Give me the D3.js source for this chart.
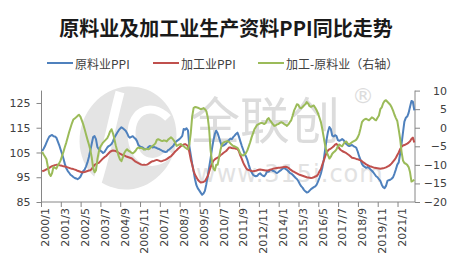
<!DOCTYPE html>
<html><head><meta charset="utf-8">
<script src="https://cdn.jsdelivr.net/npm/d3@7"></script>
<style>body{margin:0;background:#fff}svg{display:block}</style>
</head><body><svg id="c" width="454" height="265"></svg>
<script>
const title = "原料业及加工业生产资料PPI同比走势";
const seriesNames = ["原料业PPI", "加工业PPI", "加工-原料业（右轴）"];
const seriesColors = ["#4F81BD", "#C0504D", "#9BBB59"];
const categories = [];
for (let y = 2000; y <= 2021; y++) for (let m = 1; m <= 12; m++) categories.push(y + "/" + m);
const tickLabels = ["2000/1","2001/3","2002/5","2003/7","2004/9","2005/11","2007/1","2008/3","2009/5","2010/7","2011/9","2012/11","2014/1","2015/3","2016/5","2017/7","2018/9","2019/11","2021/1"];
const leftTicks = [85, 95, 105, 115, 125];
const rightTicks = [-20, -15, -10, -5, 0, 5, 10];

// 原料业PPI (left axis)
const rawPPI = [
105.6,106.5,107.6,109.0,110.3,111.4,111.8,112.1,111.6,111.5,111.0,109.5,
108.0,106.2,104.5,102.6,100.4,98.6,97.6,96.8,96.0,95.6,95.1,94.7,
94.5,94.2,94.6,95.2,96.4,97.5,98.1,99.4,101.0,103.2,105.8,108.5,
111.2,111.6,110.4,107.2,106.3,105.8,105.4,104.8,105.2,106.1,107.0,107.6,
107.9,108.4,109.5,111.0,112.0,113.0,113.9,114.6,115.2,114.8,114.3,113.8,
112.8,111.5,111.0,111.3,111.6,111.0,110.5,109.6,108.0,107.5,107.2,107.0,
106.6,106.3,106.5,107.2,107.6,107.4,107.0,107.3,107.0,106.8,106.5,106.3,
106.0,105.6,105.4,105.2,105.3,106.0,106.3,106.8,107.3,108.0,109.0,109.6,
110.0,110.4,111.0,111.7,114.5,114.2,114.8,114.0,107.6,104.0,100.5,97.5,
94.2,91.8,90.5,89.7,88.8,87.9,88.4,89.5,92.2,95.4,99.0,102.5,
106.5,109.8,112.4,113.8,112.8,111.0,109.2,107.6,107.8,108.2,108.6,109.5,
110.0,110.6,110.4,111.2,111.8,112.5,113.0,111.5,109.6,107.8,106.2,104.6,
103.4,102.0,100.0,98.2,97.0,96.0,95.6,95.4,95.6,96.3,96.6,96.0,
95.6,95.4,96.2,97.4,97.2,97.8,98.0,97.6,97.4,97.0,96.7,97.1,
97.6,98.0,98.5,98.8,98.4,98.0,97.4,96.8,96.5,96.0,95.4,94.8,
94.3,93.5,92.4,91.4,90.8,89.9,89.3,88.8,89.0,89.6,90.2,90.6,
91.0,91.3,92.0,93.3,94.8,96.5,98.8,102.0,106.3,110.2,113.4,115.3,
114.5,111.8,111.5,112.0,111.6,110.0,109.7,110.0,110.4,110.0,109.2,108.4,
107.9,107.6,107.8,108.0,107.6,107.3,106.9,105.4,103.5,102.0,100.4,99.6,
99.2,98.8,99.1,98.8,98.2,97.6,97.0,96.2,95.4,95.0,94.2,93.5,
92.0,91.0,90.6,91.5,93.5,93.8,94.0,94.4,95.0,96.5,98.2,100.1,
101.0,104.5,108.5,113.0,117.5,119.0,119.5,121.0,123.5,125.8,125.5,122.0
];
// 加工业PPI (left axis)
const procPPI = [
97.4,97.6,97.9,98.2,98.5,98.8,99.2,99.5,99.7,99.9,100.0,100.0,
99.9,99.7,99.6,99.4,99.3,99.2,99.0,98.8,98.6,98.4,98.3,98.1,
97.9,97.6,97.4,97.2,97.0,97.0,97.1,97.3,97.5,97.7,97.8,98.3,
99.2,100.0,100.3,100.6,100.8,101.4,102.0,102.6,103.1,103.5,104.1,104.7,
105.3,105.6,105.8,105.7,105.6,105.3,104.9,104.5,104.2,104.0,103.8,103.5,
103.3,103.1,102.9,102.7,102.3,101.8,101.3,101.0,100.7,100.4,100.1,100.0,
100.1,100.0,100.1,100.4,100.8,101.2,101.5,101.6,101.8,102.0,101.8,101.6,
101.5,101.6,101.8,102.0,102.3,102.7,103.1,103.5,104.1,104.7,105.4,105.9,
106.5,107.0,107.6,107.9,108.2,108.4,108.1,107.5,105.2,102.2,100.0,97.6,
96.0,95.0,94.0,93.4,92.9,93.0,93.1,93.4,94.4,95.4,97.2,99.0,
100.4,101.6,102.2,102.6,102.9,103.3,103.9,104.3,104.8,105.2,105.6,106.3,
107.0,107.0,106.8,106.7,106.7,106.5,106.4,105.5,103.8,102.5,101.0,99.8,
98.8,98.1,97.9,97.7,97.5,97.4,97.5,97.6,97.8,98.0,98.1,98.0,
97.9,97.8,97.7,97.7,97.8,98.0,98.2,98.4,98.5,98.6,98.7,98.8,
98.8,98.9,99.0,99.1,99.2,99.1,98.8,98.3,97.9,97.4,97.2,96.9,
96.6,96.3,96.0,95.8,95.6,95.4,95.2,95.0,94.9,94.8,94.7,94.8,
95.0,95.3,95.5,96.2,97.4,98.3,100.1,101.7,103.4,104.8,105.8,106.3,
106.6,107.0,107.5,108.2,108.5,107.8,106.6,106.0,105.6,105.3,105.0,104.7,
104.3,103.9,103.4,102.9,102.8,102.6,102.4,102.3,102.0,101.8,101.5,101.0,
100.6,100.2,99.9,99.6,99.3,99.2,99.0,98.8,98.7,98.6,98.5,98.4,
98.5,98.6,98.8,99.0,99.3,99.6,100.0,100.6,101.3,102.0,102.9,104.0,
105.0,106.3,107.3,107.8,108.0,108.3,108.6,109.0,109.5,110.5,111.0,109.0
];
// 加工-原料业 (right axis)
const spread = [
-6.5,-7.2,-7.8,-8.5,-10.5,-12.4,-13.0,-12.2,-10.5,-10.8,-11.0,-10.2,
-9.6,-8.8,-7.6,-6.5,-5.2,-4.0,-2.6,-1.2,0.0,1.2,2.2,2.5,
2.8,3.2,3.5,3.0,2.0,0.9,-0.4,-1.8,-3.2,-4.5,-5.9,-8.0,
-10.8,-12.0,-11.5,-8.5,-6.5,-5.2,-4.6,-4.0,-3.6,-3.2,-2.8,-2.0,
-1.0,-0.4,-1.5,-3.0,-4.8,-6.2,-7.6,-8.6,-9.0,-8.0,-6.8,-6.2,
-5.8,-6.2,-6.4,-6.7,-6.9,-6.6,-6.2,-5.6,-5.3,-5.5,-5.4,-5.6,
-5.9,-5.8,-5.7,-5.8,-5.6,-5.2,-4.9,-4.6,-4.2,-3.3,-3.1,-3.3,
-3.5,-3.6,-3.4,-3.5,-3.7,-3.2,-2.9,-2.6,-2.9,-3.4,-4.0,-4.9,
-4.7,-4.5,-4.4,-4.7,-5.0,-5.3,-5.6,-5.8,-4.5,-1.5,3.0,5.3,
5.6,5.5,5.4,5.2,5.0,5.1,5.3,5.0,4.5,2.8,-0.4,-6.0,
-9.0,-11.0,-11.5,-10.0,-10.0,-8.0,-6.0,-4.5,-4.0,-3.8,-3.7,-3.6,
-3.8,-4.2,-4.6,-4.9,-5.0,-5.2,-5.4,-6.0,-7.0,-7.3,-7.5,-7.2,
-6.8,-6.1,-5.0,-3.9,-2.6,-1.5,-0.4,0.2,0.8,1.0,1.2,1.3,
1.2,1.0,1.3,2.2,2.6,2.0,1.5,1.0,0.5,0.6,0.9,1.0,
1.3,1.5,1.3,1.0,0.8,0.5,0.9,1.5,2.0,3.2,4.6,5.4,
6.3,6.2,5.4,5.2,5.6,6.0,6.3,6.9,6.5,5.8,5.6,5.8,
6.0,5.4,4.7,3.8,2.7,1.5,-0.4,-2.6,-4.8,-6.5,-7.4,-8.3,
-7.8,-7.0,-6.6,-6.3,-5.8,-5.0,-4.5,-4.8,-5.0,-4.4,-3.8,-3.7,
-4.3,-4.5,-4.2,-3.9,-3.7,-3.5,-3.2,-2.6,-1.7,-0.2,1.5,2.0,
2.3,2.4,2.2,2.0,2.4,2.8,2.6,2.2,2.0,2.7,3.3,5.0,
5.5,6.6,7.2,7.4,7.0,6.6,6.2,5.5,4.6,3.5,2.6,1.8,
-0.5,-3.0,-6.5,-8.8,-9.5,-9.7,-10.0,-10.6,-12.0,-14.5,-14.3,-14.0
];

const svg = d3.select("#c");
const X0 = 41.5, X1 = 415, YB = 202, YT = 90.6;
const axisColor = "#868686", textColor = "#404040";
const x = d3.scaleBand().domain(categories).range([X0, X1]).padding(0);
const yL = d3.scaleLinear().domain([85, 130]).range([YB, YT]);
const yR = d3.scaleLinear().domain([-20, 10]).range([YB, YT]);
const cx = c => x(c) + x.bandwidth() / 2;

// watermark
const wm = svg.append("g").attr("class", "watermark");
wm.append("ellipse").attr("cx", 128).attr("cy", 138).attr("rx", 48).attr("ry", 52)
  .attr("transform", "rotate(20,128,138)").attr("fill", "#e4e4e4");
wm.append("path").attr("d", "M120,92 C110,130 105,160 96,186").attr("stroke", "#fff").attr("stroke-width", 9).attr("fill", "none");
wm.append("path").attr("d", "M168,118 C150,100 128,112 132,140 C136,165 158,168 170,152").attr("stroke", "#fff").attr("stroke-width", 8).attr("fill", "none");
wm.append("text").attr("x", 190).attr("y", 139).attr("font-family", "Noto Sans CJK SC").attr("font-size", 50)
  .attr("fill", "#dcdcdc").text("全联创");
wm.append("text").attr("x", 352).attr("y", 103).attr("font-family", "DejaVu Sans").attr("font-size", 22)
  .attr("fill", "#dcdcdc").text("®");
wm.append("text").attr("x", 196).attr("y", 182).attr("font-family", "DejaVu Sans").attr("font-size", 24)
  .attr("letter-spacing", 1).attr("fill", "#e2e2e2").text("www.315i.com");

// title
svg.append("text").attr("x", 226).attr("y", 27).attr("text-anchor", "middle").attr("dominant-baseline", "central")
  .attr("font-family", "Noto Sans CJK SC").attr("font-weight", "bold").attr("font-size", 20).attr("fill", "#1a1a1a").text(title);

// legend
const legendX = [47, 153, 258];
seriesNames.forEach((n, i) => {
  svg.append("line").attr("x1", legendX[i]).attr("x2", legendX[i] + 26).attr("y1", 63).attr("y2", 63)
    .attr("stroke", seriesColors[i]).attr("stroke-width", 2);
  svg.append("text").attr("x", legendX[i] + 28).attr("y", 63).attr("dominant-baseline", "central")
    .attr("font-family", "Noto Sans CJK SC").attr("font-size", 12).attr("fill", textColor).text(n);
});

// axes
const font = "DejaVu Sans";
const gL = svg.append("g").attr("transform", `translate(${X0},0)`)
  .call(d3.axisLeft(yL).tickValues(leftTicks).tickSize(5).tickPadding(6));
const gR = svg.append("g").attr("transform", `translate(${X1},0)`)
  .call(d3.axisRight(yR).tickValues(rightTicks).tickSize(5).tickPadding(6));
const gX = svg.append("g").attr("transform", `translate(0,${YB})`)
  .call(d3.axisBottom(x).tickValues(tickLabels).tickSize(5).tickFormat(d => d));
[gL, gR, gX].forEach(g => {
  g.select(".domain").attr("stroke", axisColor);
  g.selectAll(".tick line").attr("stroke", axisColor);
  g.selectAll("text").attr("fill", textColor).attr("font-family", font).attr("font-size", 11);
});
gL.select(".domain").attr("d", `M0,${YT}V${YB}`);
gR.select(".domain").attr("d", `M0,${YT}V${YB}`);
gR.selectAll("text").attr("text-anchor", "end").attr("x", 32);
gX.select(".domain").attr("d", `M${X0},0H${X1}`);
gX.selectAll(".tick").attr("transform", d => `translate(${x(d)},0)`);
gX.selectAll(".tick text").attr("transform", "translate(4,6) rotate(-90)").attr("text-anchor", "end")
  .attr("x", 0).attr("y", 0).attr("dy", "0.35em");

// lines
const lineL = d3.line().x((d, i) => cx(categories[i])).y(d => yL(d));
const lineR = d3.line().x((d, i) => cx(categories[i])).y(d => yR(d));
svg.append("path").datum(rawPPI).attr("d", lineL).attr("fill", "none").attr("stroke", seriesColors[0]).attr("stroke-width", 2).attr("stroke-linejoin", "round");
svg.append("path").datum(procPPI).attr("d", lineL).attr("fill", "none").attr("stroke", seriesColors[1]).attr("stroke-width", 2).attr("stroke-linejoin", "round");
svg.append("path").datum(spread).attr("d", lineR).attr("fill", "none").attr("stroke", seriesColors[2]).attr("stroke-width", 2).attr("stroke-linejoin", "round");
</script></body></html>
